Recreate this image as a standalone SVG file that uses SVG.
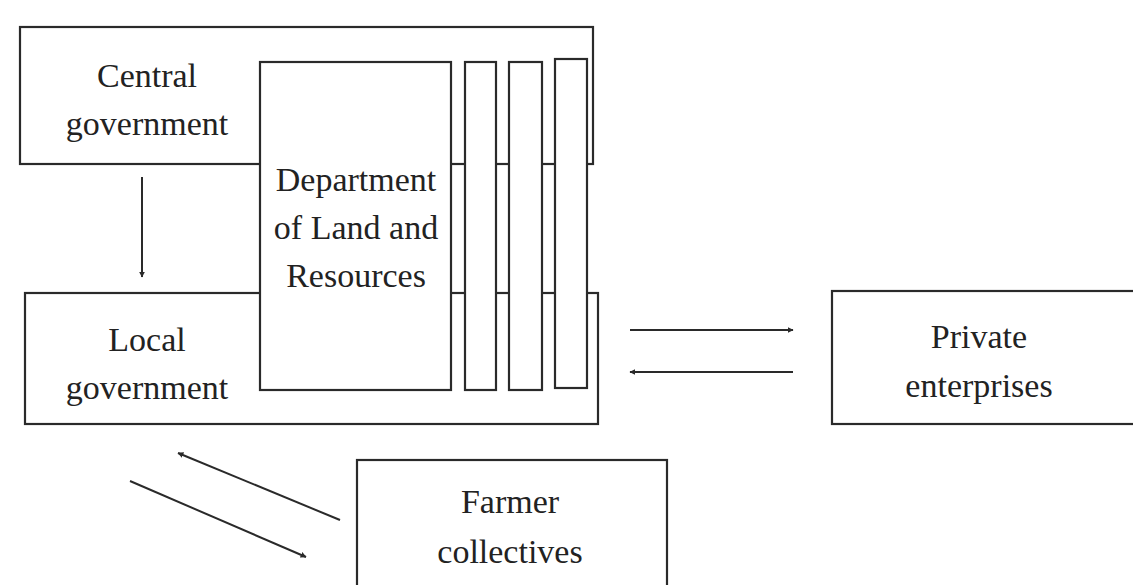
<svg xmlns="http://www.w3.org/2000/svg" width="1133" height="585" viewBox="0 0 1133 585">
<defs>
<marker id="ah" viewBox="0 0 10 10" refX="9" refY="5" markerWidth="3" markerHeight="3" orient="auto" markerUnits="strokeWidth">
<path d="M0,0 L10,5 L0,10 z" fill="#2a2a2a"/>
</marker>
<style>
.box{fill:#fff;stroke:#2a2a2a;stroke-width:2.2}
.lbl{font-family:"Liberation Serif","Times New Roman",serif;font-size:34px;fill:#222;text-anchor:middle}
.arr{stroke:#2a2a2a;stroke-width:2;fill:none;marker-end:url(#ah)}
</style>
</defs>
<rect width="1133" height="585" fill="#fff"/>
<g id="central-government">
<rect class="box" x="20" y="27" width="573" height="137"/>
<text class="lbl" x="147" y="87">Central</text>
<text class="lbl" x="147" y="135">government</text>
</g>
<g id="local-government">
<rect class="box" x="25" y="293" width="573" height="131"/>
<text class="lbl" x="147" y="351">Local</text>
<text class="lbl" x="147" y="399">government</text>
</g>
<g id="department">
<rect class="box" x="260" y="62" width="191" height="328"/>
<text class="lbl" x="356" y="191">Department</text>
<text class="lbl" x="356" y="239">of Land and</text>
<text class="lbl" x="356" y="287">Resources</text>
</g>
<g id="column-1"><rect class="box" x="465" y="62" width="31" height="328"/></g>
<g id="column-2"><rect class="box" x="509" y="62" width="33" height="328"/></g>
<g id="column-3"><rect class="box" x="555" y="59" width="32" height="329"/></g>
<g id="private-enterprises">
<rect class="box" x="832" y="291" width="310" height="133"/>
<text class="lbl" x="979" y="348">Private</text>
<text class="lbl" x="979" y="397">enterprises</text>
</g>
<g id="farmer-collectives">
<rect class="box" x="357" y="460" width="310" height="140"/>
<text class="lbl" x="510" y="513">Farmer</text>
<text class="lbl" x="510" y="563">collectives</text>
</g>
<g id="connectors">
<line class="arr" x1="142" y1="177" x2="142" y2="277"/>
<line class="arr" x1="630" y1="330" x2="793" y2="330"/>
<line class="arr" x1="793" y1="372" x2="630" y2="372"/>
<line class="arr" x1="340" y1="520" x2="178" y2="453"/>
<line class="arr" x1="130" y1="481" x2="306" y2="557"/>
</g>
</svg>
